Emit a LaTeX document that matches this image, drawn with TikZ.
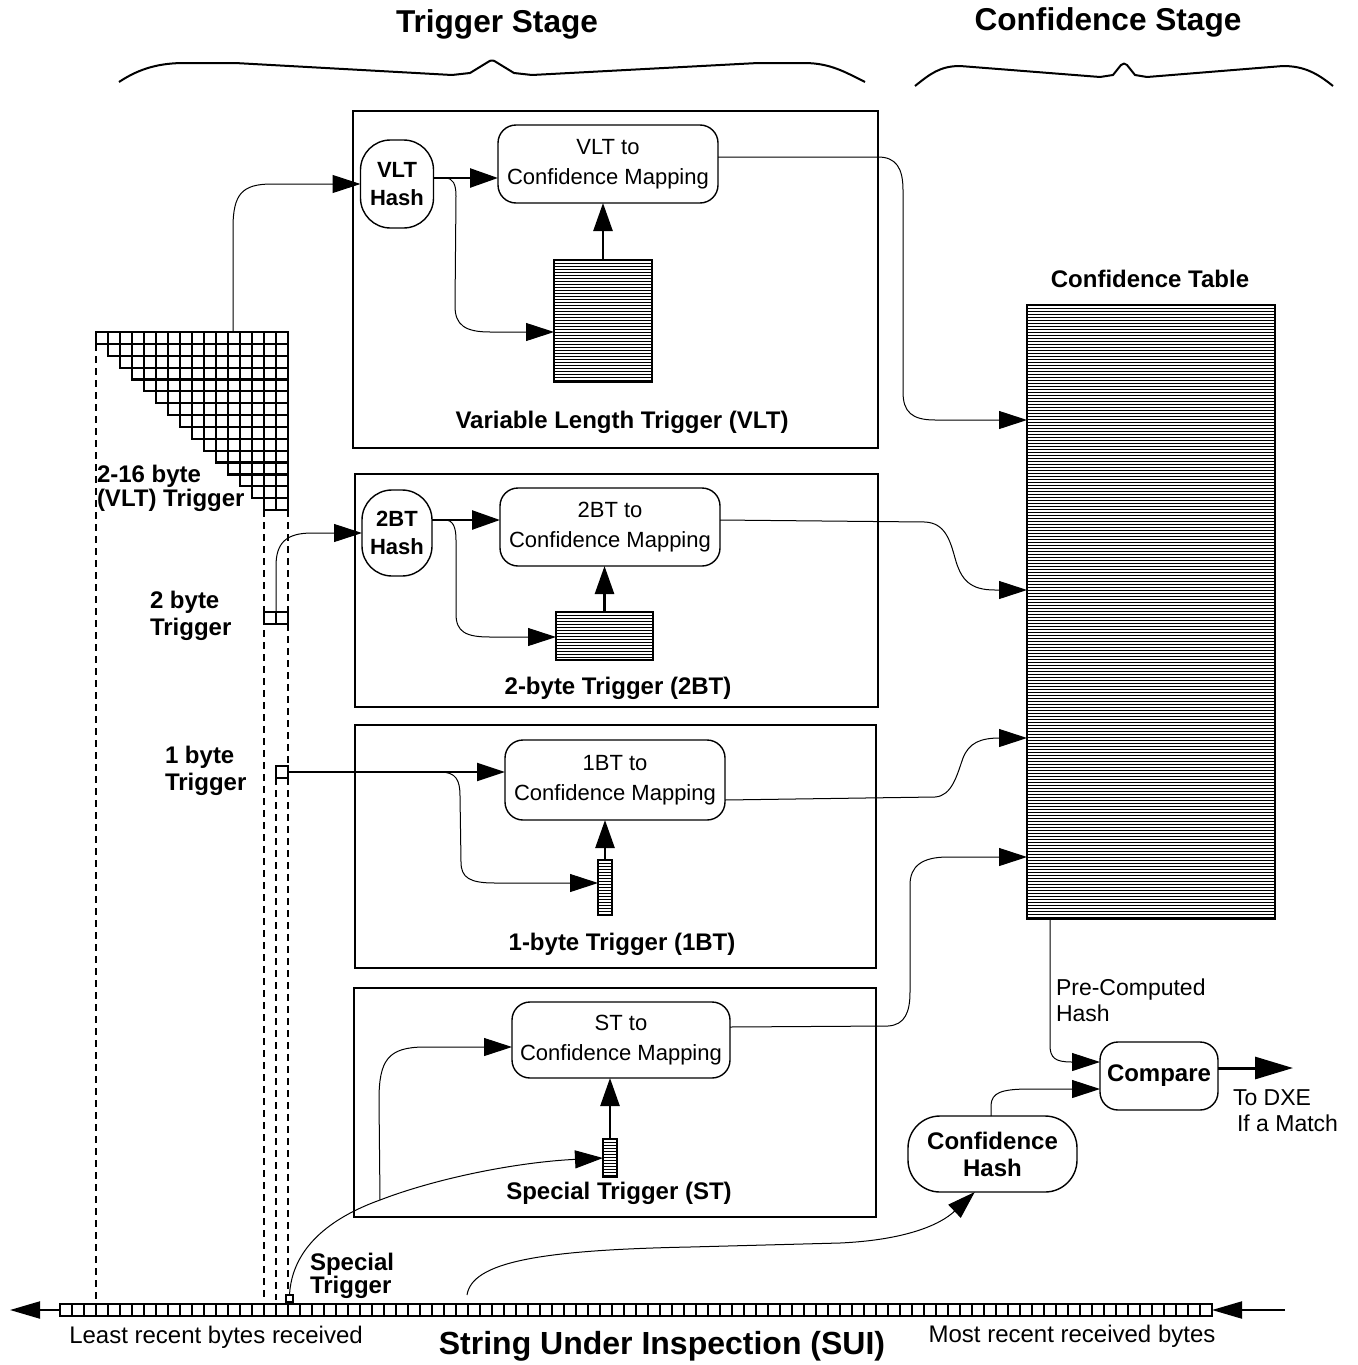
\documentclass[tikz,border=0pt]{standalone}
\usepackage{fontspec}
\setmainfont{Liberation Sans}
\usetikzlibrary{arrows.meta}

\begin{document}
\begin{tikzpicture}[x=0.5pt,y=-0.5pt,
  every node/.style={inner sep=0pt, outer sep=0pt},
  frame/.style={draw, line width=1pt, rectangle},
  mapbox/.style={draw, line width=0.7pt, rounded corners=9pt, minimum width=110pt, minimum height=39pt, align=center, font=\fontsize{11}{15}\selectfont},
  hashbox/.style={draw, line width=0.7pt, rounded corners=15pt, align=center, font=\fontsize{11}{14}\selectfont\bfseries},
  tab/.style={draw, line width=1.2pt},
  stripe/.style={line width=0.5pt},
  cell/.style={draw, line width=1pt},
  lbl/.style={font=\fontsize{12}{13.5}\selectfont\bfseries, align=left},
  txt/.style={font=\fontsize{11.5}{13}\selectfont, align=left},
  title/.style={font=\fontsize{15.8}{18}\selectfont\bfseries},
  wire/.style={line width=0.5pt, -{Triangle[length=14pt,width=9pt]}},
  thickwire/.style={line width=1.3pt, -{Triangle[length=14pt,width=9.5pt]}},
  bigarrow/.style={line width=1.5pt, -{Triangle[length=19pt,width=11pt]}},
  suiarrow/.style={line width=1pt, -{Triangle[length=15pt,width=8.5pt]}},
  guide/.style={line width=1.1pt, dash pattern=on 3.5pt off 2.5pt},
  brace/.style={line width=1pt, line join=round}
]
\useasboundingbox (0,0) rectangle (1357,1365);

% ---------- titles and braces ----------
\node[title] (ttrig) at (497,24) {Trigger Stage};
\node[title] (tconf) at (1108,22) {Confidence Stage};
\draw[brace] (119,82) .. controls (140,68) and (160,63) .. (185,63) -- (235,63) -- (452,75)
  -- (470,73) -- (488,62) .. controls (490,60) and (494,60) .. (496,62) -- (514,73) -- (532,75)
  -- (758,63) -- (804,63) .. controls (830,63) and (845,72) .. (865,82);
\draw[brace] (915,86) .. controls (930,74) and (940,66) .. (960,66) -- (1100,77) -- (1113,75)
  -- (1121,65) .. controls (1123,63) and (1125,63) .. (1127,65) -- (1135,75) -- (1147,77)
  -- (1283,66) .. controls (1305,66) and (1318,74) .. (1333,86);

% ---------- stage frames ----------
\node[frame, minimum width=262.5pt, minimum height=168.5pt] (vltbox) at (615.5,279.5) {};
\node[frame, minimum width=261.5pt, minimum height=116.5pt] (bt2box) at (616.5,590.5) {};
\node[frame, minimum width=260.5pt, minimum height=121.5pt] (bt1box) at (615.5,846.5) {};
\node[frame, minimum width=261pt, minimum height=114.5pt] (stbox) at (615,1102.5) {};

\node[lbl] (vltname) at (622,422) {Variable Length Trigger (VLT)};
\node[lbl] (bt2name) at (618,688) {2-byte Trigger (2BT)};
\node[lbl] (bt1name) at (622,944) {1-byte Trigger (1BT)};
\node[lbl] (stname) at (619,1193) {Special Trigger (ST)};

% ---------- hash units and mapping boxes ----------
\node[hashbox, minimum width=36.5pt, minimum height=44pt] (vlthash) at (397,184) {VLT\\Hash};
\node[hashbox, minimum width=35pt, minimum height=43pt] (bt2hash) at (397,533) {2BT\\Hash};
\node[mapbox] (vltmap) at (608,164) {VLT to\\Confidence Mapping};
\node[mapbox] (bt2map) at (610,527) {2BT to\\Confidence Mapping};
\node[mapbox, minimum height=40pt] (bt1map) at (615,780) {1BT to\\Confidence Mapping};
\node[mapbox, minimum width=109pt, minimum height=38pt] (stmap) at (621,1040) {ST to\\Confidence Mapping};

% ---------- striped tables ----------
\foreach \yy in {263,266,...,380} \draw[stripe] (554,\yy) -- (652,\yy);
\foreach \yy in {615,618,...,658} \draw[stripe] (556,\yy) -- (653,\yy);
\foreach \yy in {863,866,...,913} \draw[stripe] (598,\yy) -- (612,\yy);
\foreach \yy in {1142,1145,...,1175} \draw[stripe] (603,\yy) -- (617,\yy);
\foreach \yy in {308,311,...,917} \draw[stripe] (1027,\yy) -- (1275,\yy);
\node[tab, minimum width=49pt, minimum height=61pt] (vlttab) at (603,321) {};
\node[tab, minimum width=48.5pt, minimum height=24pt] (bt2tab) at (604.5,636) {};
\node[tab, minimum width=7pt, minimum height=27.5pt] (bt1tab) at (605,887.5) {};
\node[tab, minimum width=7pt, minimum height=19pt] (sttab) at (610,1158) {};
\node[tab, minimum width=124pt, minimum height=307pt] (conftab) at (1151,612) {};
\node[lbl] (conftitle) at (1150,279) {Confidence Table};

% ---------- compare stage ----------
\node[hashbox, rounded corners=9pt, minimum width=59pt, minimum height=34pt, font=\fontsize{12}{14}\selectfont\bfseries] (compare) at (1159,1076) {Compare};
\node[hashbox, rounded corners=16pt, minimum width=84.5pt, minimum height=38pt, font=\fontsize{12}{13.5}\selectfont\bfseries] (confhash) at (992.5,1154) {Confidence\\Hash};
\node[txt, anchor=west] (pre) at (1056,1000) {Pre-Computed\\Hash};
\node[txt, anchor=west] (dxelbl) at (1233,1111) {To DXE\\\hspace{2pt}If a Match};

% ---------- trigger window over the string ----------
\foreach \r in {0,...,14} {
  \foreach \c in {\r,...,15} {
    \draw[line width=1.1pt] ({96+12*\c},{332+11.87*\r}) rectangle ++(12,11.87);
  }
}
\coordinate (vltgrid) at (233,332);
\draw[guide] (96,344) -- (96,1300);
\draw[guide] (264,510) -- (264,1300);
\draw[guide] (288,510) -- (288,612);
\draw[guide] (288,624) -- (288,766);
\draw[guide] (288,778) -- (288,1295);
\draw[guide] (276,778) -- (276,1300);

\node[cell, fill=white, minimum width=12pt, minimum height=6pt] (bt2cell) at (276,618) {};
\draw[line width=1pt] (bt2cell.north) -- (bt2cell.south);
\node[cell, fill=white, minimum width=6pt, minimum height=6pt] (bt1cell) at (282,772) {};
\node[cell, fill=white, minimum width=3.5pt, minimum height=3.5pt] (stcell) at (289.5,1298.5) {};

\node[lbl, anchor=west, font=\fontsize{12}{12}\selectfont\bfseries] (l16) at (97,488) {2-16 byte\\(VLT) Trigger};
\node[lbl, anchor=west] (l2) at (150,616) {2 byte\\Trigger};
\node[lbl, anchor=west] (l1) at (165,771) {1 byte\\Trigger};
\node[lbl, anchor=west, font=\fontsize{12}{11.5}\selectfont\bfseries] (lst) at (310,1276) {Special\\Trigger};

% ---------- string under inspection ----------
\node[draw, line width=1pt, minimum width=576pt, minimum height=6pt] (sui) at (636,1310) {};
\foreach \i in {1,...,95} \draw[line width=1pt] ({60+12*\i},1304) -- ({60+12*\i},1316);
\coordinate (suiL) at (10,1310);
\coordinate (suiR) at (1285,1310);
\draw[suiarrow] (sui.west) -- (suiL);
\draw[suiarrow] (suiR) -- (sui.east);
\node[txt, font=\fontsize{12}{13}\selectfont] (least) at (216,1337) {Least recent bytes received};
\node[txt, font=\fontsize{12}{13}\selectfont] (most) at (1072,1336) {Most recent received bytes};
\node[title, font=\fontsize{16}{18}\selectfont\bfseries] (suiname) at (662,1346) {String Under Inspection (SUI)};

% ---------- VLT path ----------
\draw[wire] (vltgrid) -- (233,228) .. controls (233,194) and (242,184) .. (272,184) -- (vlthash.west);
\draw[thickwire] (vlthash.east |- 0,178) -- (vltmap.west |- 0,178);
\draw[wire] (vlthash.east |- 0,178) -- (445,178) .. controls (453,178) and (456,184) .. (456,196)
  -- (455,306) .. controls (455,325) and (465,332) .. (490,332) -- (vlttab.west |- 0,332);
\draw[thickwire] (vlttab.north) -- (vlttab.north |- vltmap.south);
\draw[wire] (vltmap.east |- 0,157) -- (878,157) .. controls (896,157) and (903,168) .. (903,190)
  -- (903,392) .. controls (903,412) and (912,420) .. (935,420) -- (conftab.west |- 0,420);

% ---------- 2BT path ----------
\draw[wire] (bt2cell.north) -- (276,566) .. controls (276,543) and (286,533) .. (312,533) -- (bt2hash.west);
\draw[thickwire] (bt2hash.east |- 0,520) -- (bt2map.west |- 0,520);
\draw[wire] (bt2hash.east |- 0,520) -- (445,520) .. controls (453,520) and (456,527) .. (456,540)
  -- (456,614) .. controls (456,632) and (466,637) .. (490,637) -- (bt2tab.west |- 0,637);
\draw[thickwire] (bt2tab.north) -- (bt2tab.north |- bt2map.south);
\draw[wire] (bt2map.east |- 0,520) -- (925,522) .. controls (945,523) and (950,540) .. (955,558)
  .. controls (961,580) and (970,590) .. (995,590) -- (conftab.west |- 0,590);

% ---------- 1BT path ----------
\coordinate (bt1fork) at (440,772);
\draw[line width=1pt, -{Triangle[length=14pt,width=9pt]}] (bt1cell.east) -- (bt1map.west |- bt1cell.east);
\draw[wire] (bt1fork) .. controls (456,772) and (460,780) .. (460,796)
  -- (461,862) .. controls (461,878) and (470,883) .. (495,883) -- (bt1tab.west |- 0,883);
\draw[thickwire] (bt1tab.north) -- (bt1tab.north |- bt1map.south);
\draw[wire] (bt1map.east |- 0,800) -- (935,797) .. controls (952,796) and (957,775) .. (963,758)
  .. controls (969,743) and (980,738) .. (1000,738) -- (conftab.west |- 0,738);

% ---------- ST path ----------
\coordinate (stfork) at (380,1200);
\draw[wire] (stcell.north) .. controls (292,1248) and (330,1218) .. (stfork)
  .. controls (440,1177) and (520,1162) .. (sttab.west);
\draw[wire] (stfork) -- (379,1100) .. controls (379,1060) and (388,1047) .. (425,1047) -- (stmap.west |- 0,1047);
\draw[thickwire] (sttab.north) -- (sttab.north |- stmap.south);
\draw[wire] (stmap.east |- 0,1027) -- (888,1026) .. controls (905,1025) and (910,1012) .. (910,992)
  -- (910,885) .. controls (910,866) and (922,857) .. (948,857) -- (conftab.west |- 0,857);

% ---------- confidence check ----------
\coordinate (suitap) at (467,1295);
\coordinate (dxe) at (1293,1068);
\draw[wire] (conftab.south -| 1050,0) -- (1050,1045) .. controls (1050,1058) and (1055,1062) .. (1072,1062) -- (compare.west |- 0,1062);
\draw[wire] (confhash.north -| 991,0) -- (991,1105) .. controls (992,1093) and (1000,1089) .. (1030,1089) -- (compare.west |- 0,1089);
\draw[bigarrow] (compare.east |- 0,1068) -- (dxe);
\draw[wire] (suitap) .. controls (472,1262) and (540,1250) .. (690,1247) -- (840,1243)
  .. controls (905,1240) and (940,1225) .. (confhash.-115);
\end{tikzpicture}
\end{document}
